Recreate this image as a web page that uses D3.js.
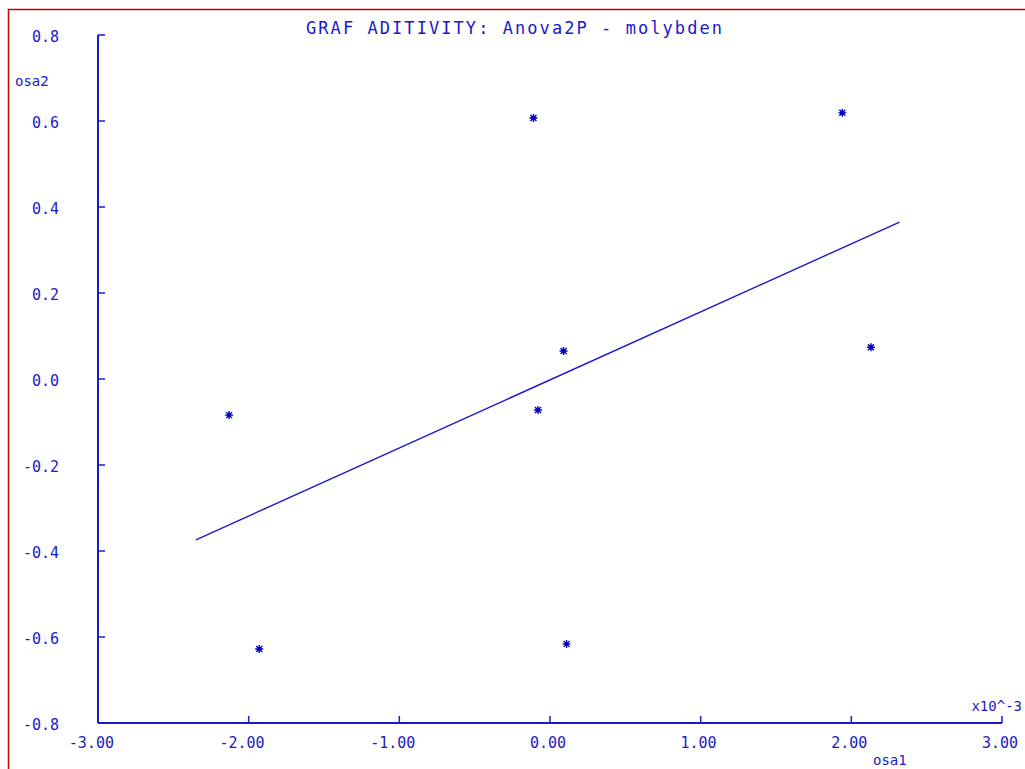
<!DOCTYPE html>
<html>
<head>
<meta charset="utf-8">
<script src="https://cdn.jsdelivr.net/npm/d3@7"></script>
<style>
  html, body { margin: 0; padding: 0; background: #fff; }
  svg { display: block; }
  text { font-family: "DejaVu Sans Mono", monospace; fill: #1a1ac8; }
</style>
</head>
<body>
<div id="chart"></div>
<script>
// osa1 values are in units of 10^-3
const osa1 = [-0.11, 1.94, 0.09, -0.08, -2.13, 2.13, -1.93, 0.11]
const osa2 = [0.607, 0.619, 0.065, -0.072, -0.084, 0.074, -0.628, -0.616]
const fitLine = [[-2.35, -0.374], [2.32, 0.365]]
const xTicks = [-3, -2, -1, 0, 1, 2, 3]
const yTicks = [-0.8, -0.6, -0.4, -0.2, 0.0, 0.2, 0.4, 0.6, 0.8]
const title = "GRAF ADITIVITY: Anova2P - molybden"

const W = 1025, H = 769
const blue = "#1a1ac8"

const svg = d3.select("#chart").append("svg")
  .attr("width", W)
  .attr("height", H)

// red frame (top and left visible)
svg.append("path")
  .attr("d", `M8.5,${H} V9.5 H${W}`)
  .attr("fill", "none")
  .attr("stroke", "#c80000")
  .attr("stroke-width", 1.5)

const x = d3.scaleLinear().domain([-3, 3]).range([98, 1002])
const y = d3.scaleLinear().domain([-0.8, 0.8]).range([723, 35])

// y axis
svg.append("line")
  .attr("x1", x(-3)).attr("x2", x(-3))
  .attr("y1", y(0.8)).attr("y2", y(-0.8))
  .attr("stroke", blue).attr("stroke-width", 2)

svg.selectAll(".ytick")
  .data(yTicks.filter(d => d > -0.8))
  .join("line")
    .attr("x1", x(-3)).attr("x2", x(-3) + 7)
    .attr("y1", d => y(d)).attr("y2", d => y(d))
    .attr("stroke", blue).attr("stroke-width", 1.5)

svg.selectAll(".ylab")
  .data(yTicks)
  .join("text")
    .attr("x", 59)
    .attr("y", d => y(d) + 7)
    .attr("text-anchor", "end")
    .style("font-size", "15px")
    .text(d => d3.format(".1f")(d).replace("−", "-"))

// x axis
svg.append("line")
  .attr("x1", x(-3)).attr("x2", x(3))
  .attr("y1", y(-0.8)).attr("y2", y(-0.8))
  .attr("stroke", blue).attr("stroke-width", 2)

svg.selectAll(".xtick")
  .data(xTicks.filter(d => d > -3))
  .join("line")
    .attr("x1", d => x(d)).attr("x2", d => x(d))
    .attr("y1", y(-0.8)).attr("y2", y(-0.8) - 7)
    .attr("stroke", blue).attr("stroke-width", 1.5)

svg.selectAll(".xlab")
  .data(xTicks)
  .join("text")
    .attr("x", d => x(d) + 16)
    .attr("y", y(-0.8) + 25)
    .attr("text-anchor", "end")
    .style("font-size", "15px")
    .text(d => d3.format(".2f")(d).replace("−", "-"))

// axis captions
svg.append("text").attr("x", 15).attr("y", 86).style("font-size", "14px").text("osa2")
svg.append("text").attr("x", 873).attr("y", 765).style("font-size", "14px").text("osa1")
svg.append("text").attr("x", 1022).attr("y", 711).attr("text-anchor", "end")
  .style("font-size", "14px").text("x10^-3")

// title
svg.append("text")
  .attr("x", 306).attr("y", 34)
  .attr("textLength", 416)
  .attr("lengthAdjust", "spacing")
  .style("font-size", "17px")
  .text(title)

// fitted line
svg.append("path")
  .attr("d", d3.line().x(d => x(d[0])).y(d => y(d[1]))(fitLine))
  .attr("fill", "none")
  .attr("stroke", blue)
  .attr("stroke-width", 1.4)

// asterisk markers
const pts = osa1.map((v, i) => [v, osa2[i]])
const star = svg.selectAll(".pt")
  .data(pts)
  .join("g")
    .attr("transform", d => `translate(${x(d[0])},${y(d[1])})`)

star.append("path")
  .attr("d", "M-4,0H4M0,-4V4M-3,-3L3,3M-3,3L3,-3")
  .attr("stroke", "#0000c0")
  .attr("stroke-width", 1.4)
star.append("circle")
  .attr("r", 2.2)
  .attr("fill", "#0000c0")
</script>
</body>
</html>
